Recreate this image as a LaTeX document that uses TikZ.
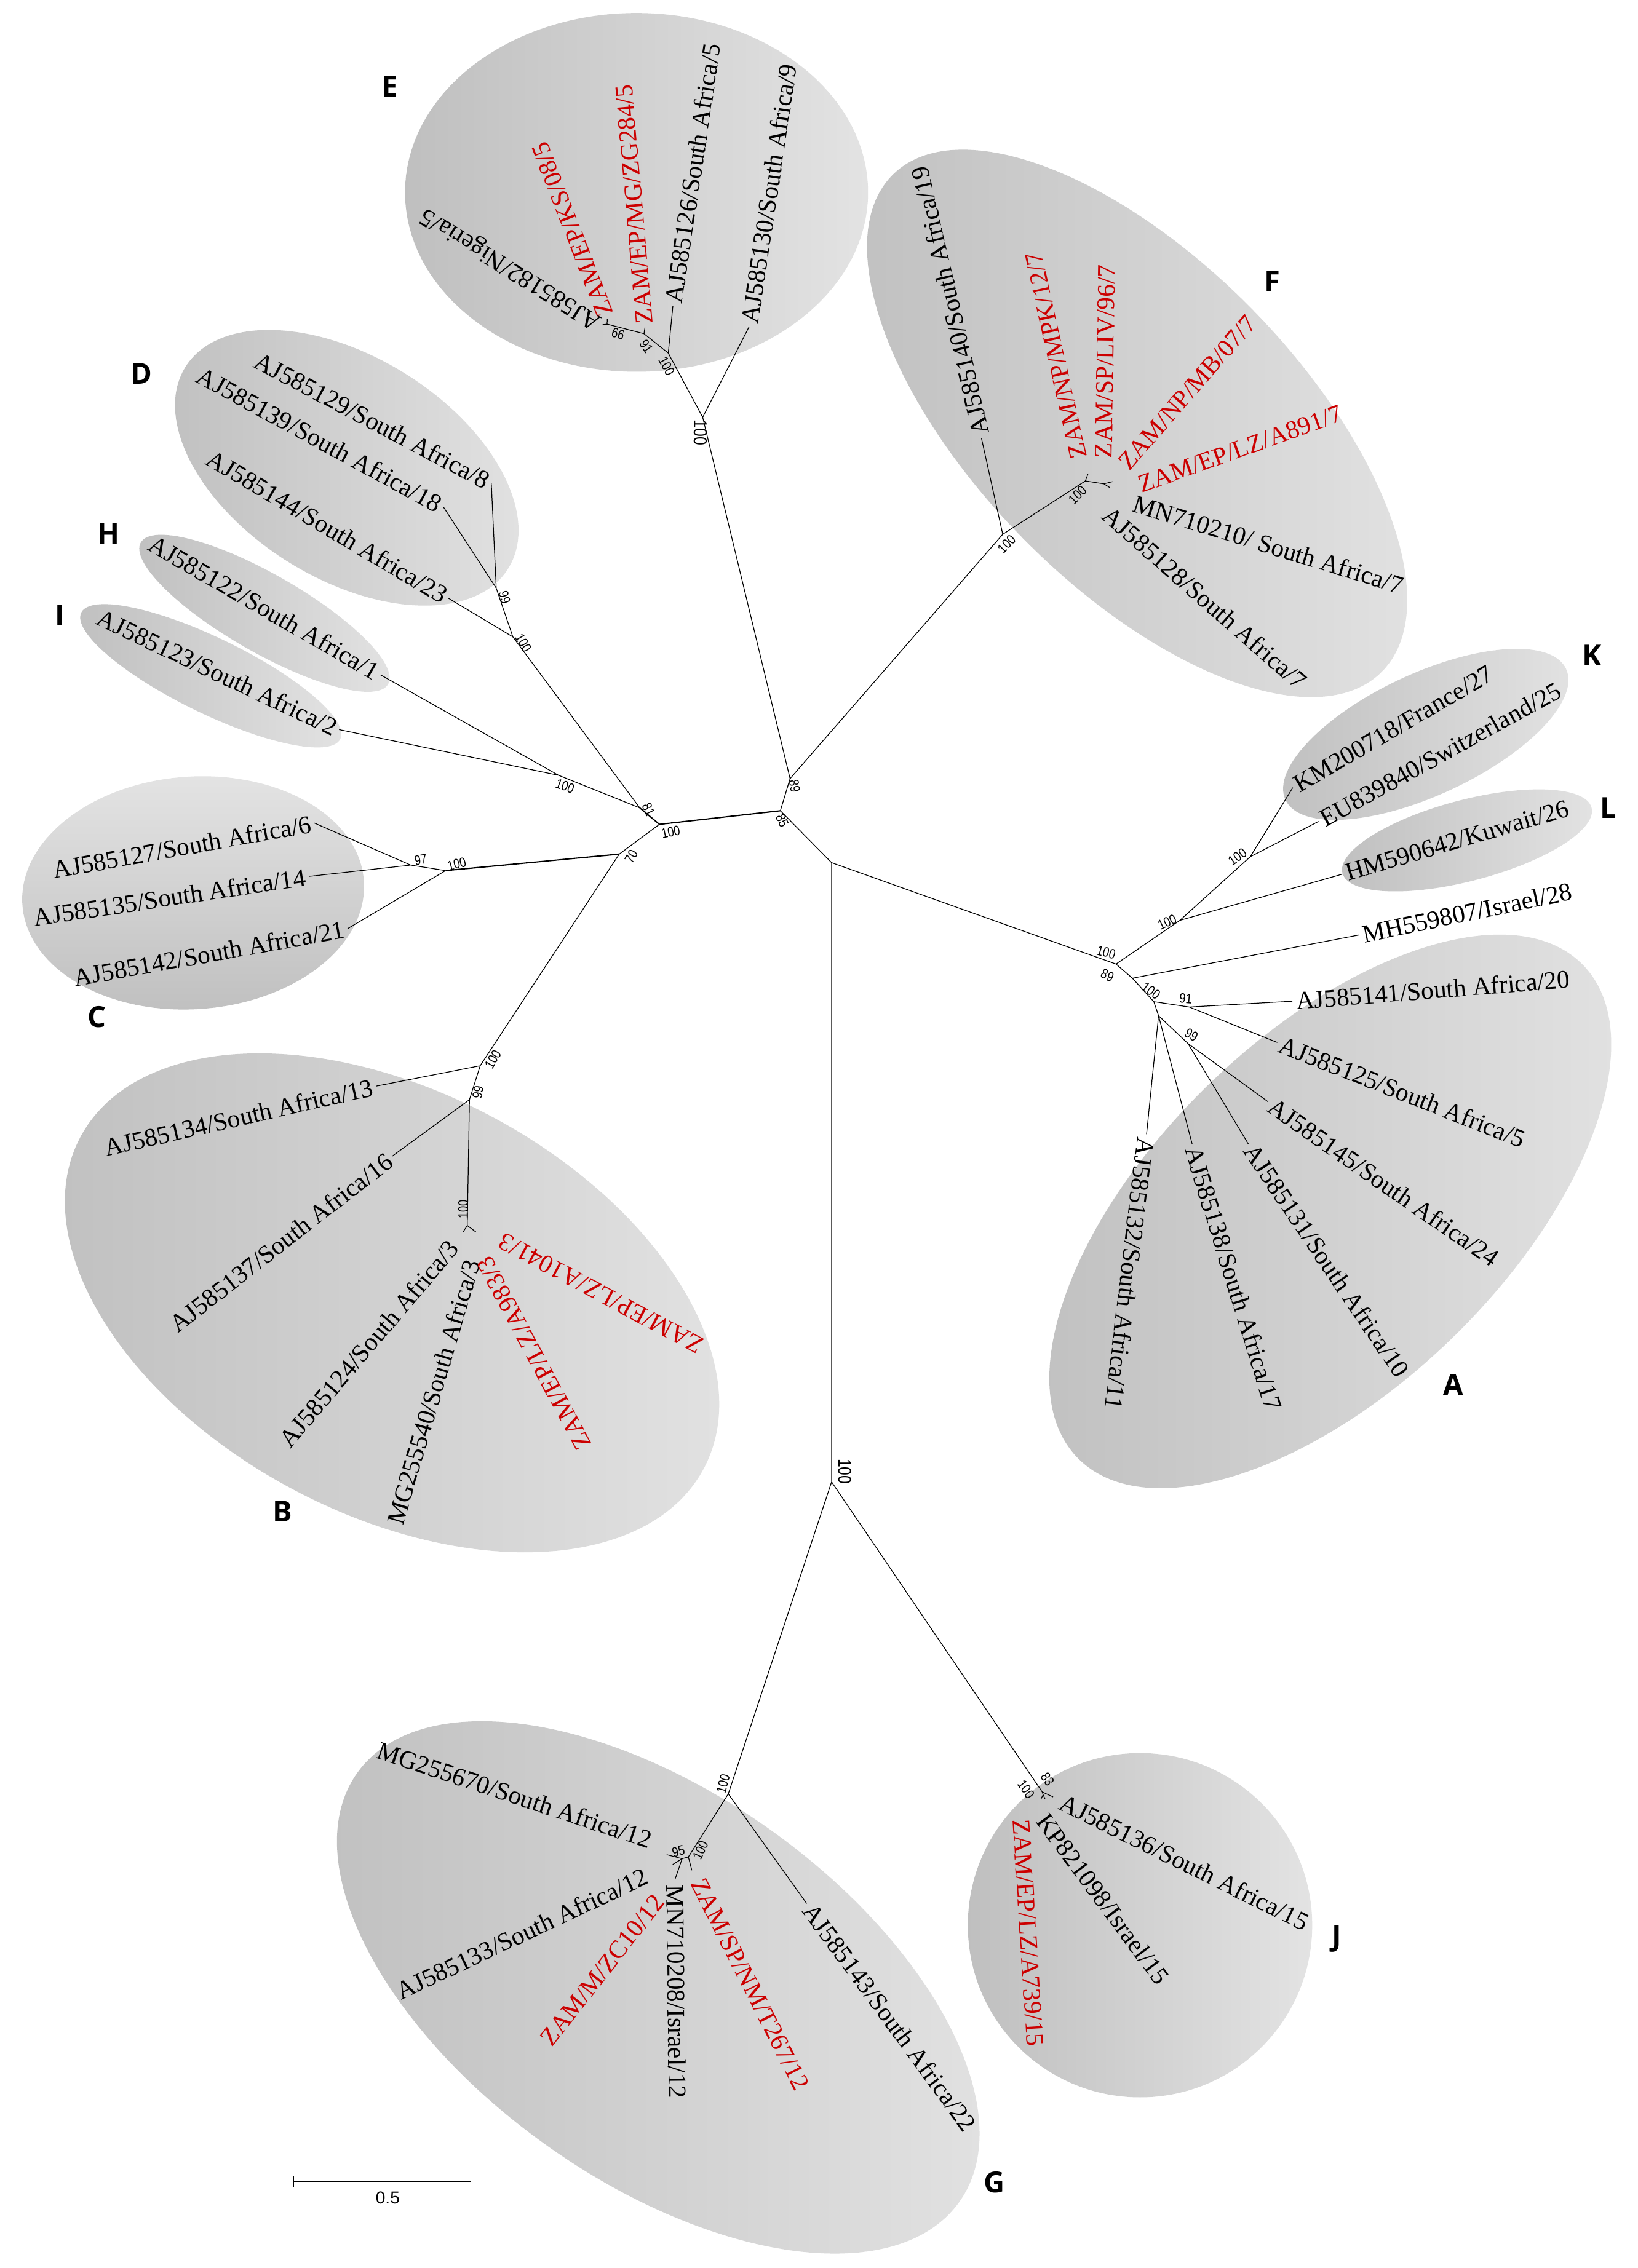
\documentclass[tikz,border=0pt]{standalone}
\usepackage{fontspec}
\setmainfont{Liberation Serif}
\newfontfamily\suppfont{Liberation Sans}[FakeStretch=0.82]
\newfontfamily\scalefont{Liberation Sans}
\newfontfamily\cladefont{Open Sans}
\definecolor{strainred}{RGB}{204,0,0}
\definecolor{cladedark}{gray}{0.75}
\definecolor{cladelight}{gray}{0.89}

\begin{document}
\begin{tikzpicture}[x=0.02cm, y=-0.02cm,
    branch/.style={line width=0.3pt},
    trunk/.style={line width=0.5pt},
    clade/.style={left color=cladedark, right color=cladelight},
    taxon/.style={font=\fontsize{10}{12}\selectfont, inner sep=1.2pt},
    zam/.style={taxon, text=strainred},
    boot/.style={font=\suppfont\fontsize{5.4}{6}\selectfont, inner sep=0pt},
    bigboot/.style={font=\suppfont\fontsize{7.3}{8}\selectfont, inner sep=0pt},
    letter/.style={font=\cladefont\bfseries\fontsize{11.4}{13}\selectfont, inner sep=0pt}]

    \fill[white] (0,0) rectangle (1132,1568);
    \useasboundingbox (0,0) rectangle (1132,1568);

    % clade ellipses
    \shade[clade] (440,133) ellipse [x radius=160, y radius=124];
    \shade[clade, rotate around={-45.6:(786,292.7)}] (786,292.7) ellipse [x radius=241, y radius=112];
    \shade[clade, rotate around={-32:(239.7,323.4)}] (239.7,323.4) ellipse [x radius=131.5, y radius=76.6];
    \shade[clade, rotate around={-29.8:(182.8,424)}] (182.8,424) ellipse [x radius=98.5, y radius=27];
    \shade[clade, rotate around={-26:(145.7,467.2)}] (145.7,467.2) ellipse [x radius=99.6, y radius=26];
    \shade[top color=cladelight, bottom color=cladedark, rotate around={4:(133.5,617.3)}] (133.5,617.3) ellipse [x radius=118.3, y radius=80.4];
    \shade[clade, rotate around={-28:(271,900.7)}] (271,900.7) ellipse [x radius=244, y radius=146];
    \shade[clade, rotate around={44.3:(919.5,837.5)}] (919.5,837.5) ellipse [x radius=244, y radius=121.5];
    \shade[clade, rotate around={-35.5:(455,1374)}] (455,1374) ellipse [x radius=255.5, y radius=133.7];
    \shade[clade] (788,1331) ellipse [x radius=119, y radius=119];
    \shade[clade, rotate around={25:(985.5,507.7)}] (985.5,507.7) ellipse [x radius=107, y radius=42];
    \shade[clade, rotate around={14.7:(1014,581)}] (1014,581) ellipse [x radius=89, y radius=28];

    % inner nodes
    \coordinate (nR) at (574.8,596.4);
    \coordinate (n85) at (539.4,560.5);
    \coordinate (n89) at (546.1,538.3);
    \coordinate (nM) at (455.8,569.9);
    \coordinate (n81) at (442.2,558.5);
    \coordinate (n70) at (428,590.5);
    \coordinate (nHI) at (386.1,536);
    \coordinate (nD) at (354.5,440.3);
    \coordinate (nD2) at (343,406.6);
    \coordinate (nC) at (308,601.9);
    \coordinate (nC2) at (283.9,598.1);
    \coordinate (nB) at (331.9,736.8);
    \coordinate (nB2) at (324.5,760.3);
    \coordinate (nB3) at (323,847.3);
    \coordinate (nE) at (485.7,288.5);
    \coordinate (nE2) at (461.9,244.1);
    \coordinate (nE3) at (445.1,230.7);
    \coordinate (nE4) at (419.6,224.1);
    \coordinate (nF) at (693.1,369.4);
    \coordinate (nF2) at (750.2,332.5);
    \coordinate (nF3) at (763,334.5);
    \coordinate (nGJ) at (574.8,1024.5);
    \coordinate (nG) at (503.4,1240.2);
    \coordinate (nG2) at (475.8,1283.8);
    \coordinate (nG3) at (471.5,1285);
    \coordinate (nJ) at (720.4,1238.9);
    \coordinate (nJ2) at (721,1240.8);
    \coordinate (nAK) at (771.4,666.5);
    \coordinate (nKL) at (815.5,636.3);
    \coordinate (nK) at (864.2,592.3);
    \coordinate (nA0) at (782.7,676.3);
    \coordinate (nA) at (797.5,692.5);
    \coordinate (nA1) at (822,696.2);
    \coordinate (nA2) at (800.8,702.2);
    \coordinate (nA3) at (821.2,721.5);

    % tips
    \coordinate (tH) at (263.1,466.6);
    \coordinate (tI) at (234.4,504.4);
    \coordinate (t129) at (339.6,334.1);
    \coordinate (t139) at (306.5,350.5);
    \coordinate (t144) at (310,413.6);
    \coordinate (t127) at (217.3,569);
    \coordinate (t135) at (213.5,605.9);
    \coordinate (t142) at (240.3,642);
    \coordinate (t134) at (260,750.9);
    \coordinate (t137) at (271.1,799.3);
    \coordinate (sB1) at (320.1,851.7);
    \coordinate (sB2) at (328.9,851.7);
    \coordinate (t130) at (517.8,225.9);
    \coordinate (t126) at (465.1,211.7);
    \coordinate (tZG) at (445.8,226.5);
    \coordinate (tKS) at (419.8,220.5);
    \coordinate (t182) at (416.5,224.5);
    \coordinate (t140) at (678.4,303);
    \coordinate (tMPK) at (752,327.7);
    \coordinate (sF1) at (769,333);
    \coordinate (sF2) at (767,337);
    \coordinate (t143) at (557.6,1316);
    \coordinate (tT267) at (478.2,1293);
    \coordinate (sG1) at (460.8,1282.2);
    \coordinate (sG2) at (466.8,1298.7);
    \coordinate (sG3) at (465,1289);
    \coordinate (t136) at (727.9,1242.3);
    \coordinate (sJ1) at (722.3,1243.6);
    \coordinate (sJ2) at (719.6,1243.6);
    \coordinate (tKM) at (893.6,544.5);
    \coordinate (tEU) at (911.4,567.9);
    \coordinate (tHM) at (928,604.3);
    \coordinate (tMH) at (939.4,646.4);
    \coordinate (t141) at (893.3,692.2);
    \coordinate (t125) at (882.9,720.7);
    \coordinate (t145) at (876.5,761.7);
    \coordinate (t131) at (862.8,790.8);
    \coordinate (t132) at (792.5,784.2);
    \coordinate (t138) at (824,790.8);

    % branches
    \draw[trunk] (n81) -- (nM) -- (n85);
    \draw[trunk] (nC) -- (n70);
    \draw[branch] (nM) -- (n70) -- (nB);
    \draw[branch] (n85) -- (n89) (n85) -- (nR) -- (nGJ) (nR) -- (nAK);
    \draw[branch] (n81) -- (nHI) -- (tH) (nHI) -- (tI);
    \draw[branch] (n81) -- (nD) -- (nD2) -- (t129) (nD2) -- (t139) (nD) -- (t144);
    \draw[branch] (nC) -- (nC2) -- (t127) (nC2) -- (t135) (nC) -- (t142);
    \draw[branch] (nB) -- (t134) (nB) -- (nB2) -- (t137) (nB2) -- (nB3) -- (sB1) (nB3) -- (sB2);
    \draw[branch] (n89) -- (nE) -- (t130) (nE) -- (nE2) -- (t126) (nE2) -- (nE3) -- (tZG) (nE3) -- (nE4) -- (tKS) (nE4) -- (t182);
    \draw[branch] (n89) -- (nF) -- (t140) (nF) -- (nF2) -- (tMPK) (nF2) -- (nF3) -- (sF1) (nF3) -- (sF2);
    \draw[branch] (nGJ) -- (nG) -- (t143) (nG) -- (nG2) -- (tT267) (nG2) -- (nG3) -- (sG1) (nG3) -- (sG2) (nG3) -- (sG3);
    \draw[branch] (nGJ) -- (nJ) -- (t136) (nJ) -- (nJ2) -- (sJ1) (nJ2) -- (sJ2);
    \draw[branch] (nAK) -- (nKL) -- (nK) -- (tKM) (nK) -- (tEU) (nKL) -- (tHM);
    \draw[branch] (nAK) -- (nA0) -- (tMH) (nA0) -- (nA) -- (nA1) -- (t141) (nA1) -- (t125);
    \draw[branch] (nA) -- (nA2) -- (nA3) -- (t145) (nA3) -- (t131) (nA2) -- (t132) (nA2) -- (t138);

    % bootstrap values
    \node[bigboot, rotate=-90] (bE) at (484,299) {100};
    \node[boot, rotate=-62] (bE2) at (460.8,253.3) {100};
    \node[boot, rotate=-55] (bE3) at (446.7,239.4) {91};
    \node[boot, rotate=163] (bE4) at (427.2,230.7) {99};
    \node[boot, rotate=45] (bF) at (695.8,376.2) {100};
    \node[boot, rotate=45] (bF2) at (744.8,342.2) {100};
    \node[boot, rotate=-80] (b89) at (549.3,543.3) {89};
    \node[boot, rotate=-65] (b85) at (540.7,567.3) {85};
    \node[boot, rotate=12] (bM) at (463.6,575.1) {100};
    \node[boot, rotate=-65] (b81) at (448.3,559.5) {81};
    \node[boot, rotate=60] (b70) at (436.3,592.1) {70};
    \node[boot, rotate=-20] (bHI) at (390.5,543.4) {100};
    \node[boot, rotate=-60] (bD) at (361.7,444.5) {100};
    \node[boot, rotate=-75] (bD2) at (348.8,413) {99};
    \node[boot, rotate=15] (bC) at (315.7,597.4) {100};
    \node[boot, rotate=10] (bC2) at (290.8,594.5) {97};
    \node[boot, rotate=60] (bB) at (340.7,732.4) {100};
    \node[boot, rotate=80] (bB2) at (330.4,755.3) {99};
    \node[boot, rotate=90] (bB3) at (320.1,836.1) {100};
    \node[bigboot, rotate=-90] (bGJ) at (583.8,1017.3) {100};
    \node[boot, rotate=75] (bG) at (499.8,1233.3) {100};
    \node[boot, rotate=65] (bG2) at (484.2,1279.2) {100};
    \node[boot, rotate=15] (bG3) at (468.9,1279.9) {95};
    \node[boot, rotate=-55] (bJ) at (709.2,1237.1) {100};
    \node[boot, rotate=-55] (bJ2) at (724,1230) {83};
    \node[boot, rotate=-15] (bAK) at (764.6,658.5) {100};
    \node[boot, rotate=-25] (bA0) at (765.4,674.4) {89};
    \node[boot, rotate=25] (bKL) at (806.7,637.4) {100};
    \node[boot, rotate=35] (bK) at (855.3,592.3) {100};
    \node[boot, rotate=-35] (bA) at (795.6,685) {100};
    \node[boot, rotate=-5] (bA1) at (819.6,690.3) {91};
    \node[boot, rotate=-30] (bA3) at (823.5,715.4) {99};

    % taxa
    \node[taxon, anchor=east, rotate=-30.1] (lH) at (tH) {AJ585122/South Africa/1};
    \node[taxon, anchor=east, rotate=-25.3] (lI) at (tI) {AJ585123/South Africa/2};
    \node[taxon, anchor=east, rotate=-27.9] (l129) at (t129) {AJ585129/South Africa/8};
    \node[taxon, anchor=east, rotate=-28.6] (l139) at (t139) {AJ585139/South Africa/18};
    \node[taxon, anchor=east, rotate=-30.7] (l144) at (t144) {AJ585144/South Africa/23};
    \node[taxon, anchor=east, rotate=10.2] (l127) at (t127) {AJ585127/South Africa/6};
    \node[taxon, anchor=east, rotate=8.5] (l135) at (t135) {AJ585135/South Africa/14};
    \node[taxon, anchor=east, rotate=10.2] (l142) at (t142) {AJ585142/South Africa/21};
    \node[taxon, anchor=east, rotate=12.8] (l134) at (t134) {AJ585134/South Africa/13};
    \node[taxon, anchor=east, rotate=37.8] (l137) at (t137) {AJ585137/South Africa/16};
    \node[taxon, anchor=east, rotate=49.7] (l124) at (315,858) {AJ585124/South Africa/3};
    \node[taxon, anchor=east, rotate=73.6] (l540) at (327,869) {MG255540/South Africa/3};
    \node[zam, anchor=east, rotate=151.8] (l1041) at (344,856) {ZAM/EP/LZ/A1041/3};
    \node[zam, anchor=east, rotate=118.1] (l983) at (333,868) {ZAM/EP/LZ/A983/3};
    \node[taxon, anchor=west, rotate=81.5] (l130) at (t130) {AJ585130/South Africa/9};
    \node[taxon, anchor=west, rotate=81.5] (l126) at (t126) {AJ585126/South Africa/5};
    \node[zam, anchor=west, rotate=95] (lZG) at (tZG) {ZAM/EP/MG/ZG284/5};
    \node[zam, anchor=west, rotate=111.3] (lKS) at (tKS) {ZAM/EP/KS/08/5};
    \node[taxon, anchor=west, rotate=148] (l182) at (t182) {AJ585182/Nigeria/5};
    \node[taxon, anchor=west, rotate=103] (l140) at (t140) {AJ585140/South Africa/19};
    \node[zam, anchor=west, rotate=102.5] (lMPK) at (746.2,319.2) {ZAM/NP/MPK/12/7};
    \node[zam, anchor=west, rotate=89] (lLIV) at (762.8,319.2) {ZAM/SP/LIV/96/7};
    \node[zam, anchor=west, rotate=48.9] (lMB) at (774.8,324.1) {ZAM/NP/MB/07/7};
    \node[zam, anchor=west, rotate=19.7] (lA891) at (785,336.2) {ZAM/EP/LZ/A891/7};
    \node[taxon, anchor=west, rotate=-17.1] (l210) at (781.5,347.1) {MN710210/ South Africa/7};
    \node[taxon, anchor=west, rotate=-41.3] (l128) at (762.8,352) {AJ585128/South Africa/7};
    \node[taxon, anchor=east, rotate=-18.4] (l670) at (452.4,1273) {MG255670/South Africa/12};
    \node[taxon, anchor=east, rotate=25.2] (l133) at (448.8,1295.3) {AJ585133/South Africa/12};
    \node[zam, anchor=east, rotate=51.9] (lZC) at (456.9,1310.2) {ZAM/M/ZC10/12};
    \node[taxon, anchor=west, rotate=-89.4] (l208) at (466.8,1301) {MN710208/Israel/12};
    \node[zam, anchor=west, rotate=-63.3] (lT267) at (481.2,1297.6) {ZAM/SP/NM/T267/12};
    \node[taxon, anchor=west, rotate=-53.8] (l143) at (t143) {AJ585143/South Africa/22};
    \node[taxon, anchor=west, rotate=-26.5] (l136) at (731.5,1243.9) {AJ585136/South Africa/15};
    \node[taxon, anchor=west, rotate=-53.6] (lKP) at (719,1253.9) {KP821098/Israel/15};
    \node[zam, anchor=west, rotate=-86.4] (lA739) at (705.6,1255.5) {ZAM/EP/LZ/A739/15};
    \node[taxon, anchor=west, rotate=30.3] (lKM) at (tKM) {KM200718/France/27};
    \node[taxon, anchor=west, rotate=28.9] (lEU) at (tEU) {EU839840/Switzerland/25};
    \node[taxon, anchor=west, rotate=16.4] (lHM) at (tHM) {HM590642/Kuwait/26};
    \node[taxon, anchor=west, rotate=11.7] (lMH) at (tMH) {MH559807/Israel/28};
    \node[taxon, anchor=west, rotate=4.6] (l141) at (t141) {AJ585141/South Africa/20};
    \node[taxon, anchor=west, rotate=-21.5] (l125) at (t125) {AJ585125/South Africa/5};
    \node[taxon, anchor=west, rotate=-34.8] (l145) at (t145) {AJ585145/South Africa/24};
    \node[taxon, anchor=west, rotate=-56] (l131) at (t131) {AJ585131/South Africa/10};
    \node[taxon, anchor=west, rotate=-72.8] (l138) at (t138) {AJ585138/South Africa/17};
    \node[taxon, anchor=west, rotate=-96.8] (l132) at (t132) {AJ585132/South Africa/11};

    % clade letters
    \node[letter] (cA) at (1004.4,957.4) {A};
    \node[letter] (cB) at (195.4,1044.8) {B};
    \node[letter] (cC) at (67,703) {C};
    \node[letter] (cD) at (97.9,258.4) {D};
    \node[letter] (cE) at (269.5,60) {E};
    \node[letter] (cF) at (879.3,194.4) {F};
    \node[letter] (cG) at (687.1,1508.9) {G};
    \node[letter] (cH) at (75.2,368.8) {H};
    \node[letter] (cI) at (41.2,425.6) {I};
    \node[letter] (cJ) at (924.1,1340.2) {J};
    \node[letter] (cK) at (1100.3,453.1) {K};
    \node[letter] (cL) at (1111.8,558.5) {L};

    % scale bar
    \coordinate (sbL) at (203,1508.2);
    \coordinate (sbR) at (325.3,1508.2);
    \draw[branch] (sbL) -- (sbR);
    \draw[branch] ([yshift=-2pt]sbL) -- ([yshift=2pt]sbL);
    \draw[branch] ([yshift=-2pt]sbR) -- ([yshift=2pt]sbR);
    \node[font=\scalefont\fontsize{6.8}{8}\selectfont, inner sep=0pt] (sb) at (268,1519.3) {0.5};
\end{tikzpicture}
\end{document}
